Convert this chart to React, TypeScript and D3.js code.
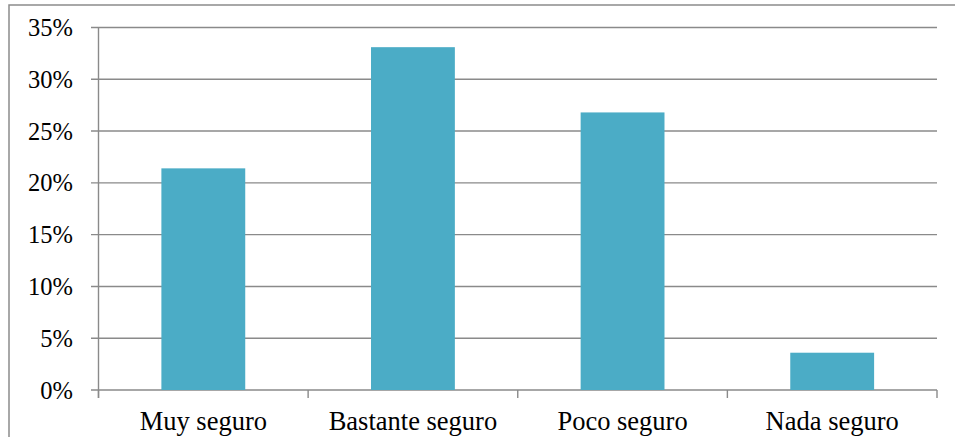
import React from "react";
import * as d3 from "d3";

const categories: string[] = ["Muy seguro", "Bastante seguro", "Poco seguro", "Nada seguro"];
const values: number[] = [21.4, 33.1, 26.8, 3.6];
const yTicks: number[] = [0, 5, 10, 15, 20, 25, 30, 35];

const W = 955;
const H = 437;
const left = 98.5;
const right = 937;
const top = 27.5;
const bottom = 390;

export default function App() {
  const x = d3.scaleBand<string>().domain(categories).range([left, right]).paddingInner(0).paddingOuter(0);
  const y = d3.scaleLinear().domain([0, 35]).range([bottom, top]);
  const bw = x.bandwidth() * 0.4;
  const gridColor = "#8a8a8a";
  const font = "'Liberation Serif', 'Times New Roman', serif";
  const boundaries = [...categories.map((c) => x(c) as number), right];
  return (
    <svg width={W} height={H} style={{ position: "absolute", left: 0, top: 0 }}>
      <rect x={0} y={0} width={W} height={H} fill="#ffffff" />
      <rect x={9} y={5} width={W + 20} height={H + 20} fill="none" stroke="#8c8c8c" strokeWidth={1.5} />
      {yTicks.map((t) => (
        <g key={t}>
          <line x1={91} x2={right} y1={y(t)} y2={y(t)} stroke={gridColor} strokeWidth={1.4} />
          <text x={73} y={y(t)} dy="0.35em" textAnchor="end" fontFamily={font} fontSize={24.5} fill="#000">
            {t}%
          </text>
        </g>
      ))}
      <line x1={left} x2={left} y1={top} y2={bottom + 8} stroke={gridColor} strokeWidth={1.4} />
      {boundaries.map((b, i) => (
        <line key={i} x1={b} x2={b} y1={bottom} y2={bottom + 8} stroke={gridColor} strokeWidth={1.4} />
      ))}
      {categories.map((c, i) => (
        <rect
          key={c}
          x={(x(c) as number) + (x.bandwidth() - bw) / 2}
          y={y(values[i])}
          width={bw}
          height={bottom - y(values[i])}
          fill="#4BACC6"
        />
      ))}
      {categories.map((c) => (
        <text
          key={c}
          x={(x(c) as number) + x.bandwidth() / 2}
          y={430}
          textAnchor="middle"
          fontFamily={font}
          fontSize={26.5}
          fill="#000"
        >
          {c}
        </text>
      ))}
    </svg>
  );
}
